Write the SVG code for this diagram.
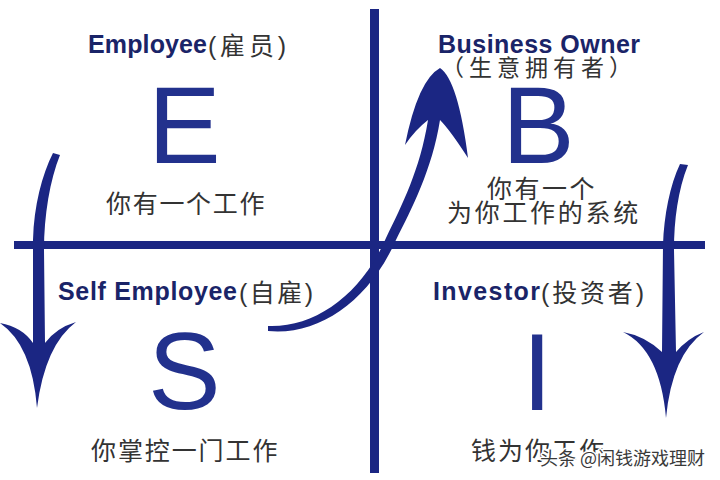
<svg xmlns="http://www.w3.org/2000/svg" width="720" height="480" viewBox="0 0 720 480">
<style>
.en{font-family:"Liberation Sans",Arial,sans-serif;font-weight:bold;font-size:25px;fill:#1a2468}
.cn{font-family:"Liberation Sans","Noto Sans CJK SC",sans-serif;font-weight:normal;fill:#333333}
.big{font-family:"Liberation Sans",Arial,sans-serif;font-size:109px;fill:#22318d}
.desc{font-family:"Noto Sans CJK SC",sans-serif;font-size:25px;fill:#333333}
.ink{fill:#1b2683}
.wm{font-family:"Noto Sans CJK SC",sans-serif;font-size:18px;fill:#3a3a3a;stroke:#ffffff;stroke-width:3;paint-order:stroke;stroke-linejoin:round}
</style>
<rect width="720" height="480" fill="#ffffff"/>
<g id="connectors">
  <rect class="ink" x="370" y="9" width="9" height="464"/>
  <rect class="ink" x="14" y="241" width="691" height="8"/>
  <path class="ink" d="M53,153 C42,175 34,205 33,240 L33,343 Q22,327 0,323 Q32,345 37,408 Q45,345 76,322 Q56,328 45,343 L44,250 C44,215 50,180 60,155 Z"/>
  <path class="ink" d="M680,164 C670,185 664,215 663,245 L662,352 Q645,336 623,332 Q660,350 666,418 Q672,355 704,332 Q688,338 676,352 L674,250 C674,220 678,190 688,165 Z"/>
  <path class="ink" d="M268,326 C315,328 362,294 386,238 C402,205 420,170 428,120 Q415,130 405,145 Q418,80 440,68 Q458,80 468,158 Q450,130 440,120 C432,170 412,208 395,242 C368,302 318,336 268,331 Z"/>
</g>
<g id="employee">
  <text x="88" y="53"><tspan class="en" textLength="119" lengthAdjust="spacing">Employee</tspan><tspan class="cn" x="208" y="55" font-size="25" textLength="78" lengthAdjust="spacing">(雇员)</tspan></text>
  <text class="big" x="148" y="163">E</text>
  <text class="desc" x="106" y="213" letter-spacing="1.7">你有一个工作</text>
</g>
<g id="business-owner">
  <text class="en" x="438" y="53" textLength="202" lengthAdjust="spacing">Business Owner</text>
  <text class="cn" x="441" y="76" font-size="23" letter-spacing="5">（生意拥有者）</text>
  <text class="big" x="502" y="163">B</text>
  <text class="desc" x="487" y="198" font-size="24" letter-spacing="2.5">你有一个</text>
  <text class="desc" x="447" y="222" font-size="24" letter-spacing="2.7">为你工作的系统</text>
</g>
<g id="self-employee">
  <text x="58" y="300"><tspan class="en" textLength="179" lengthAdjust="spacing">Self Employee</tspan><tspan class="cn" x="239" y="302" font-size="25" textLength="74" lengthAdjust="spacing">(自雇)</tspan></text>
  <text class="big" x="148" y="409">S</text>
  <text class="desc" x="91" y="460" letter-spacing="1.9">你掌控一门工作</text>
</g>
<g id="investor">
  <text x="433" y="300"><tspan class="en" textLength="107" lengthAdjust="spacing">Investor</tspan><tspan class="cn" x="541" y="302" font-size="25" textLength="103" lengthAdjust="spacing">(投资者)</tspan></text>
  <text class="big" x="522" y="410">I</text>
  <text class="desc" x="471" y="460" letter-spacing="2">钱为你工作</text>
</g>
<text class="wm" x="540" y="465">头条 @闲钱游戏理财</text>
</svg>
